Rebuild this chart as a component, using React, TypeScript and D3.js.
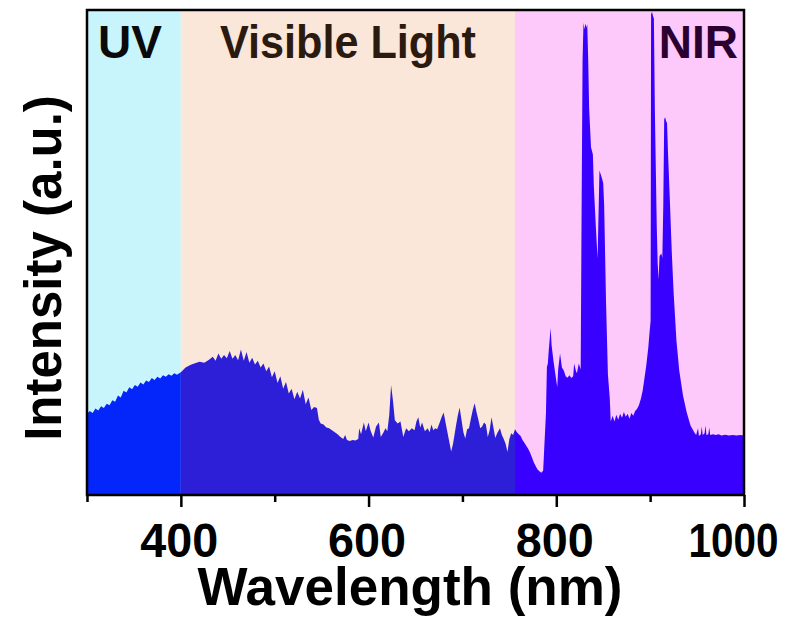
import React, { useEffect, useRef } from 'react';
import * as d3 from 'd3';

// spectral regions (nm)
const regionNames = ['UV', 'Visible Light', 'NIR'];
const regionStart = [300, 400, 756];
const regionEnd = [400, 756, 1000];
const regionBg = ['#c8f5fc', '#fbe6da', '#fdc9fb'];
const regionFill = ['#0526fb', '#2d1ed8', '#3800ff'];
const regionText = ['#0a0a0a', '#2b1a0f', '#2a0030'];

const majorTicks = [400, 600, 800, 1000];
const minorTicks = [300, 500, 700, 900];

// [wavelength nm, intensity a.u.]
const spectrumUV: [number, number][] = [
  [300, 16.8], [303, 17.4], [306, 17.0], [309, 17.9], [312, 17.5], [315, 18.4], [318, 18.0],
  [321, 18.9], [324, 18.6], [327, 19.6], [330, 19.3], [333, 20.6], [336, 20.2], [339, 21.6],
  [342, 21.2], [345, 22.3], [348, 21.9], [351, 22.8], [354, 22.4], [357, 23.3], [360, 22.9],
  [363, 23.7], [366, 23.4], [369, 24.2], [372, 23.8], [375, 24.5], [378, 24.1], [381, 24.8],
  [384, 24.5], [387, 25.0], [390, 24.7], [393, 25.2], [396, 24.9], [399, 25.3],
];

const spectrumVisible: [number, number][] = [
  [400, 25.4], [405, 26.4], [410, 26.9], [415, 27.3], [420, 27.6], [425, 27.4], [430, 28.0],
  [434, 28.6], [437, 27.8], [440, 29.3], [443, 28.2], [446, 29.0], [449, 28.3], [452, 29.8],
  [455, 28.2], [458, 29.0], [461, 27.9], [464, 30.1], [467, 27.8], [470, 29.6], [473, 27.4],
  [476, 28.4], [479, 27.0], [482, 27.8], [485, 26.4], [488, 27.2], [491, 25.6], [494, 26.6],
  [497, 24.4], [500, 25.6], [503, 23.2], [506, 24.6], [509, 22.0], [512, 23.4], [515, 21.0],
  [518, 22.0], [521, 19.8], [524, 21.4], [527, 20.0], [530, 21.8], [533, 18.8], [536, 20.2],
  [539, 17.6], [542, 18.2], [545, 18.0], [547, 15.6], [549, 14.8], [552, 14.6], [555, 14.0],
  [558, 13.8], [561, 13.4], [564, 13.0], [567, 12.6], [570, 12.0], [573, 11.6], [575, 12.4],
  [577, 11.4], [580, 11.2], [583, 11.4], [586, 11.3], [589, 11.6], [590, 13.8], [592, 12.6],
  [595, 15.0], [597, 13.2], [600, 15.0], [602, 13.4], [605, 11.9], [608, 14.2], [611, 15.0],
  [613, 12.0], [616, 13.0], [618, 13.8], [620, 13.2], [622, 16.5], [624, 22.7], [626, 19.5],
  [628, 15.5], [631, 14.8], [634, 15.2], [637, 12.0], [640, 13.8], [643, 13.2], [646, 13.8],
  [649, 13.4], [651, 15.2], [653, 16.1], [655, 14.0], [657, 15.0], [660, 13.2], [663, 13.8],
  [665, 13.0], [667, 14.6], [669, 13.4], [671, 13.8], [673, 13.6], [675, 14.6], [678, 16.2],
  [680, 17.1], [682, 15.0], [685, 12.0], [688, 9.0], [690, 10.6], [693, 14.2], [695, 16.4],
  [697, 18.1], [699, 15.6], [701, 13.0], [703, 11.7], [705, 13.6], [707, 13.8], [709, 15.8],
  [711, 17.6], [713, 19.0], [715, 17.2], [717, 15.6], [719, 13.8], [721, 14.2], [723, 15.0],
  [725, 14.6], [727, 12.0], [729, 13.4], [731, 16.1], [733, 14.0], [735, 11.8], [737, 12.8],
  [740, 13.8], [742, 12.4], [744, 11.6], [746, 10.6], [748, 8.9], [750, 11.6], [752, 12.8],
  [754, 12.4],
];

const spectrumNIR: [number, number][] = [
  [756, 13.6], [758, 13.0], [760, 12.6], [762, 12.2], [764, 11.4], [766, 10.8], [768, 10.2],
  [770, 9.6], [772, 8.8], [774, 7.8], [776, 6.8], [778, 6.0], [780, 5.3], [782, 4.9],
  [784, 4.6], [786, 5.0], [787, 9.0], [789, 17.0], [790, 26.5], [791, 27.2], [792, 30.0],
  [794, 34.6], [795, 31.0], [797, 27.8], [799, 25.0], [801, 22.3], [802, 26.0], [804, 29.3],
  [806, 26.4], [808, 25.8], [810, 24.6], [812, 24.3], [814, 24.8], [816, 24.2], [818, 24.6],
  [819, 27.2], [821, 25.6], [822, 25.2], [824, 27.2], [826, 26.0], [827, 60.0], [828, 90.0],
  [829, 97.8], [830, 96.4], [831, 97.6], [832, 96.8], [833, 97.4], [834, 90.0], [835, 80.0],
  [837, 72.0], [839, 70.5], [840, 64.0], [842, 56.0], [844, 48.9], [845, 58.0], [846, 67.2],
  [848, 66.0], [850, 64.6], [851, 60.0], [852, 50.0], [853, 40.0], [855, 25.0], [857, 20.0],
  [858, 15.2], [860, 16.4], [862, 15.2], [864, 16.6], [866, 15.6], [868, 16.8], [870, 16.0],
  [872, 17.2], [874, 16.2], [876, 16.8], [878, 15.8], [880, 17.0], [882, 16.4], [884, 17.4],
  [886, 17.8], [888, 18.6], [890, 19.8], [892, 21.6], [894, 24.2], [896, 27.0], [898, 30.5],
  [899.5, 34.0], [900.5, 36.0], [901, 99.6], [902, 100.0], [903, 99.2], [904, 98.6], [905, 80.0],
  [906, 68.0], [907, 56.0], [908, 48.0], [909, 44.6], [910, 49.5], [912, 50.0], [913, 49.0],
  [914, 60.0], [915, 77.8], [916, 78.2], [917, 77.4], [918, 77.0], [919, 71.0], [921, 61.0],
  [923, 50.5], [925, 42.0], [928, 32.0], [931, 25.8], [935, 20.6], [939, 17.1], [943, 14.4],
  [947, 13.0], [949, 12.4], [951, 13.8], [952, 12.2], [954, 12.6], [955, 14.2], [956, 12.4],
  [958, 12.8], [959, 14.4], [960, 12.4], [962, 12.6], [963, 14.0], [964, 12.4], [967, 12.6],
  [970, 12.4], [973, 12.6], [976, 12.3], [980, 12.5], [984, 12.3], [988, 12.4], [992, 12.3],
  [996, 12.4], [1000, 12.3],
];

const W = 788;
const H = 619;
const font = '"Liberation Sans", Arial, sans-serif';

export default function App() {
  const svgRef = useRef<SVGSVGElement>(null);

  useEffect(() => {
    const svg = d3.select(svgRef.current);
    svg.selectAll('*').remove();

    const left = 87;
    const right = 744;
    const top = 10;
    const bottom = 495;

    const x = d3.scaleLinear().domain([300, 1000]).range([left, right]);
    const y = d3.scaleLinear().domain([0, 100]).range([bottom, top + 2]);

    const spectrum = [...spectrumUV, ...spectrumVisible, ...spectrumNIR];

    // background bands
    regionNames.forEach((name, i) => {
      svg.append('rect')
        .attr('x', x(regionStart[i]))
        .attr('y', top)
        .attr('width', x(regionEnd[i]) - x(regionStart[i]))
        .attr('height', bottom - top)
        .attr('fill', regionBg[i]);
    });

    const defs = svg.append('defs');
    const area = d3.area<[number, number]>()
      .x((d) => x(d[0]))
      .y0(bottom)
      .y1((d) => y(d[1]))
      .curve(d3.curveLinear);

    // spectrum, coloured per region
    regionNames.forEach((name, i) => {
      defs.append('clipPath')
        .attr('id', `clip-${i}`)
        .append('rect')
        .attr('x', x(regionStart[i]))
        .attr('y', top)
        .attr('width', x(regionEnd[i]) - x(regionStart[i]))
        .attr('height', bottom - top);
      svg.append('path')
        .datum(spectrum)
        .attr('clip-path', `url(#clip-${i})`)
        .attr('fill', regionFill[i])
        .attr('d', area);
    });

    // region labels
    const labelX = [98, 220, 738];
    const labelAnchor = ['start', 'start', 'end'];
    regionNames.forEach((name, i) => {
      const t = svg.append('text')
        .attr('x', labelX[i])
        .attr('y', 58)
        .attr('text-anchor', labelAnchor[i])
        .attr('fill', regionText[i])
        .attr('font-family', font)
        .attr('font-weight', 700)
        .attr('font-size', 46)
        .text(name);
      if (i === 1) t.attr('textLength', 256).attr('lengthAdjust', 'spacingAndGlyphs');
    });

    // frame
    svg.append('rect')
      .attr('x', left)
      .attr('y', top)
      .attr('width', right - left)
      .attr('height', bottom - top)
      .attr('fill', 'none')
      .attr('stroke', '#000')
      .attr('stroke-width', 2.5);

    // x axis ticks
    svg.append('g')
      .attr('transform', `translate(0,${bottom})`)
      .call(d3.axisBottom(x).tickValues(minorTicks).tickSize(7).tickFormat(() => ''))
      .call((g) => g.select('.domain').remove())
      .call((g) => g.selectAll('line').attr('stroke', '#000').attr('stroke-width', 2.5));

    svg.append('g')
      .attr('transform', `translate(0,${bottom})`)
      .call(d3.axisBottom(x).tickValues(majorTicks).tickSize(12).tickFormat(d3.format('d')))
      .call((g) => g.select('.domain').remove())
      .call((g) => g.selectAll('line').attr('stroke', '#000').attr('stroke-width', 2.5))
      .call((g) => g.selectAll<SVGTextElement, number>('text')
        .attr('y', 62)
        .attr('dy', 0)
        .attr('x', (d) => (d === 1000 ? -11 : -2))
        .attr('textLength', (d) => (d === 1000 ? 90 : 78))
        .attr('lengthAdjust', 'spacingAndGlyphs')
        .attr('fill', '#000')
        .attr('font-family', font)
        .attr('font-weight', 700)
        .attr('font-size', 49));

    // axis titles
    svg.append('text')
      .attr('x', 410)
      .attr('y', 605)
      .attr('text-anchor', 'middle')
      .attr('font-family', font)
      .attr('font-weight', 700)
      .attr('font-size', 53)
      .text('Wavelength (nm)');

    svg.append('text')
      .attr('transform', `translate(61,${268}) rotate(-90)`)
      .attr('text-anchor', 'middle')
      .attr('font-family', font)
      .attr('font-weight', 700)
      .attr('font-size', 51)
      .text('Intensity (a.u.)');
  }, []);

  return (
    <svg
      ref={svgRef}
      width={W}
      height={H}
      viewBox={`0 0 ${W} ${H}`}
      style={{ position: 'absolute', left: 0, top: 0, background: '#fff' }}
    />
  );
}
